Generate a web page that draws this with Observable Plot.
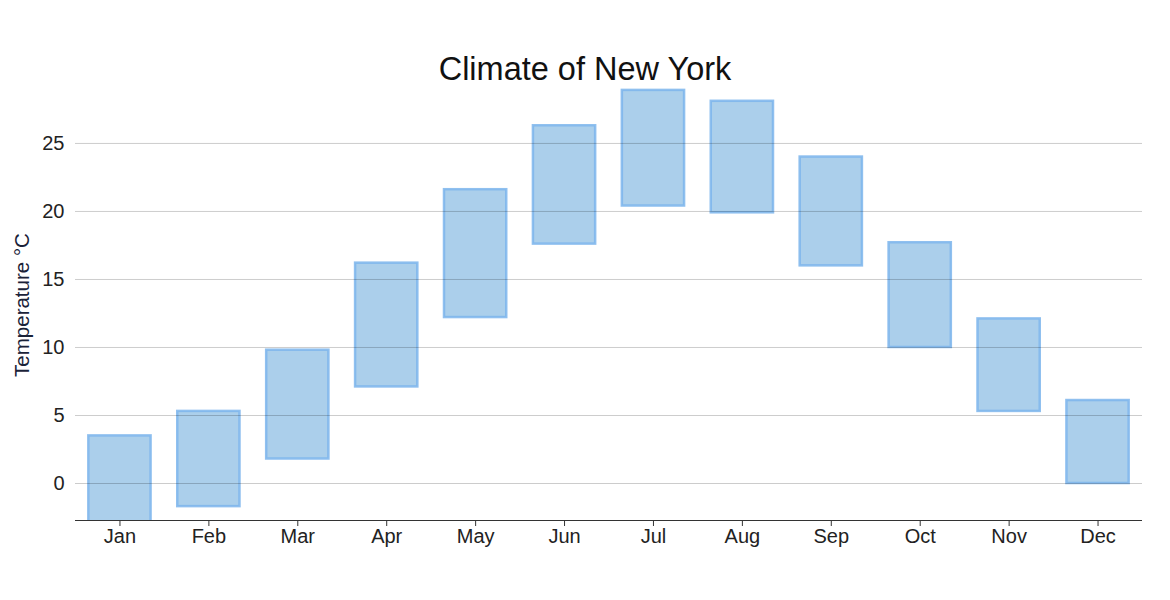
<!DOCTYPE html>
<html>
<head>
<meta charset="utf-8">
<script src="https://cdn.jsdelivr.net/npm/d3@7"></script>
<script src="https://cdn.jsdelivr.net/npm/@observablehq/plot@0.6"></script>
<style>
  html, body { margin: 0; padding: 0; background: #fff; }
  #wrap { position: relative; width: 1170px; height: 600px; font-family: "Liberation Sans", Arial, sans-serif; }
  #title { position: absolute; left: 0; width: 1170px; top: 50px; text-align: center; font-size: 32.5px; color: #111; line-height: 38px; }
  #ylabel { position: absolute; left: 22px; top: 305px; transform: translate(-50%, -50%) rotate(-90deg); font-size: 20.5px; color: #1a2238; white-space: nowrap; line-height: 24px; }
  #chart { position: absolute; left: 0; top: 0; }
</style>
</head>
<body>
<div id="wrap">
  <div id="chart"></div>
  <div id="title">Climate of New York</div>
  <div id="ylabel">Temperature °C</div>
</div>
<script>
const months = ["Jan","Feb","Mar","Apr","May","Jun","Jul","Aug","Sep","Oct","Nov","Dec"];
const lows  = [-3.0, -1.7, 1.8, 7.1, 12.2, 17.6, 20.4, 19.9, 16.0, 10.0, 5.3, 0.0];
const highs = [3.5, 5.3, 9.8, 16.2, 21.6, 26.3, 28.9, 28.1, 24.0, 17.7, 12.1, 6.1];
const yTicks = [0, 5, 10, 15, 20, 25];

const data = months.map((m, i) => ({month: m, low: lows[i], high: highs[i]}));

const chart = Plot.plot({
  width: 1170,
  height: 600,
  marginLeft: 75,
  marginRight: 28,
  marginTop: 88,
  marginBottom: 80,
  style: {fontFamily: "'Liberation Sans', Arial, sans-serif", fontSize: "20px", color: "#222", background: "#fff"},
  x: {domain: months, paddingInner: 0.3, paddingOuter: 0.15, round: false, label: null},
  y: {domain: [-2.72, 29.04], label: null},
  marks: [
    Plot.barY(data, {
      x: "month", y1: "low", y2: "high",
      fill: "#abcfeb", fillOpacity: 1,
      stroke: "#7cb5ec", strokeOpacity: 0.85, strokeWidth: 2.5,
      clip: true
    }),
    Plot.ruleY(yTicks, {stroke: "#000", strokeOpacity: 0.2, strokeWidth: 1}),
    Plot.axisY({ticks: yTicks, tickSize: 0, tickPadding: 11, label: null, fontSize: 20}),
    Plot.axisX({tickSize: 6, tickPadding: 2, label: null, fontSize: 20, stroke: "#333"}),
    Plot.ruleY([-2.72], {stroke: "#333", strokeWidth: 1})
  ]
});
document.getElementById("chart").appendChild(chart);
</script>
</body>
</html>
